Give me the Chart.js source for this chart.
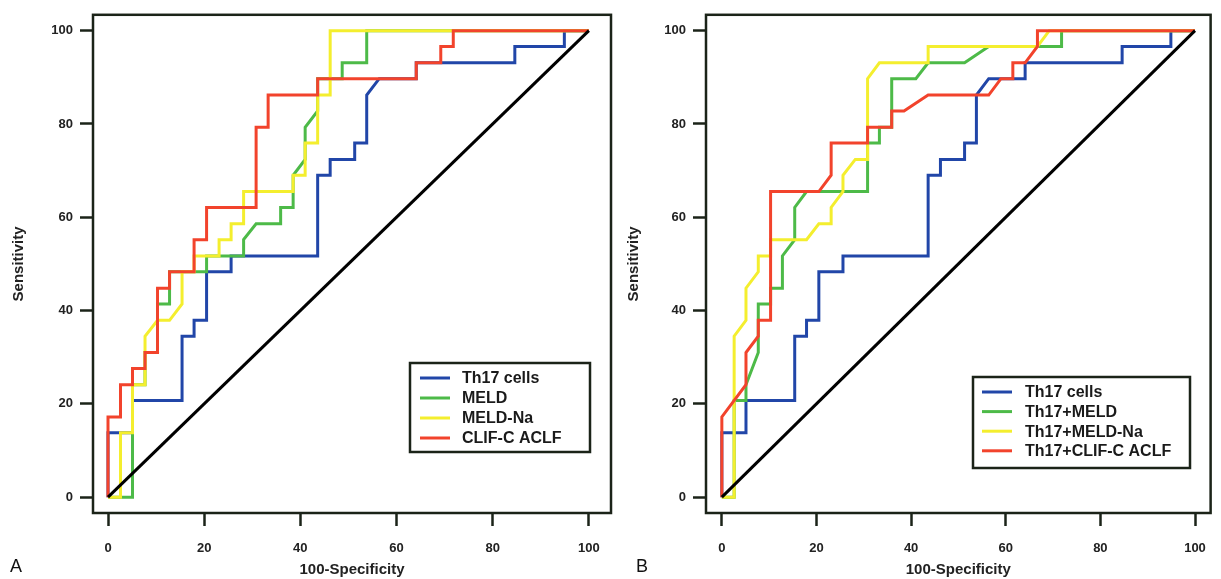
<!DOCTYPE html>
<html>
<head>
<meta charset="utf-8">
<script src="https://cdn.jsdelivr.net/npm/chart.js@4.4.0/dist/chart.umd.min.js"></script>
<style>
  body { margin: 0; background: #fff; width: 1221px; height: 579px; overflow: hidden; position: relative; }
  canvas { position: absolute; top: 0; }
  #chartA { left: 0; }
  #chartB { left: 615px; }
</style>
</head>
<body>
<canvas id="chartA" width="615" height="579"></canvas>
<canvas id="chartB" width="606" height="579"></canvas>
<script>
// ROC step curves, 100-specificity (x) vs sensitivity (y)
const th17X = [0, 0, 5.1, 5.1, 15.4, 15.4, 17.9, 17.9, 20.5, 20.5, 25.6, 25.6, 43.6, 43.6, 46.2, 46.2, 51.3, 51.3, 53.8, 53.8, 56.4, 64.1, 64.1, 84.6, 84.6, 94.9, 94.9, 100];
const th17Y = [0, 13.8, 13.8, 20.7, 20.7, 34.5, 34.5, 37.9, 37.9, 48.3, 48.3, 51.7, 51.7, 69.0, 69.0, 72.4, 72.4, 75.9, 75.9, 86.2, 89.7, 89.7, 93.1, 93.1, 96.6, 96.6, 100, 100];

const meldX = [0, 5.1, 5.1, 7.7, 7.7, 10.3, 10.3, 12.8, 12.8, 20.5, 20.5, 28.2, 28.2, 30.8, 35.9, 35.9, 38.5, 38.5, 41.0, 41.0, 43.6, 43.6, 48.7, 48.7, 53.8, 53.8, 100];
const meldY = [0, 0, 24.1, 24.1, 31.0, 31.0, 41.4, 41.4, 48.3, 48.3, 51.7, 51.7, 55.2, 58.6, 58.6, 62.1, 62.1, 69.0, 72.4, 79.3, 82.8, 89.7, 89.7, 93.1, 93.1, 100, 100];

const meldNaX = [0, 2.6, 2.6, 5.1, 5.1, 7.7, 7.7, 10.3, 12.8, 15.4, 15.4, 17.9, 17.9, 23.1, 23.1, 25.6, 25.6, 28.2, 28.2, 38.5, 38.5, 41.0, 41.0, 43.6, 43.6, 46.2, 46.2, 100];
const meldNaY = [0, 0, 13.8, 13.8, 24.1, 24.1, 34.5, 37.9, 37.9, 41.4, 48.3, 48.3, 51.7, 51.7, 55.2, 55.2, 58.6, 58.6, 65.5, 65.5, 69.0, 69.0, 75.9, 75.9, 86.2, 86.2, 100, 100];

const clifX = [0, 0, 2.6, 2.6, 5.1, 5.1, 7.7, 7.7, 10.3, 10.3, 12.8, 12.8, 17.9, 17.9, 20.5, 20.5, 30.8, 30.8, 33.3, 33.3, 43.6, 43.6, 64.1, 64.1, 69.2, 69.2, 71.8, 71.8, 100];
const clifY = [0, 17.2, 17.2, 24.1, 24.1, 27.6, 27.6, 31.0, 31.0, 44.8, 44.8, 48.3, 48.3, 55.2, 55.2, 62.1, 62.1, 79.3, 79.3, 86.2, 86.2, 89.7, 89.7, 93.1, 93.1, 96.6, 96.6, 100, 100];

const th17MeldX = [0, 2.6, 2.6, 5.1, 5.1, 7.7, 7.7, 10.3, 10.3, 12.8, 12.8, 15.4, 15.4, 17.9, 30.8, 30.8, 33.3, 33.3, 35.9, 35.9, 41.0, 43.6, 51.3, 56.4, 71.8, 71.8, 100];
const th17MeldY = [0, 0, 20.7, 20.7, 24.1, 31.0, 41.4, 41.4, 44.8, 44.8, 51.7, 55.2, 62.1, 65.5, 65.5, 75.9, 75.9, 79.3, 79.3, 89.7, 89.7, 93.1, 93.1, 96.6, 96.6, 100, 100];

const th17MeldNaX = [0, 2.6, 2.6, 5.1, 5.1, 7.7, 7.7, 10.3, 10.3, 17.9, 20.5, 23.1, 23.1, 25.6, 25.6, 28.2, 30.8, 30.8, 33.3, 43.6, 43.6, 66.7, 69.2, 100];
const th17MeldNaY = [0, 0, 34.5, 37.9, 44.8, 48.3, 51.7, 51.7, 55.2, 55.2, 58.6, 58.6, 62.1, 65.5, 69.0, 72.4, 72.4, 89.7, 93.1, 93.1, 96.6, 96.6, 100, 100];

const th17ClifX = [0, 0, 5.1, 5.1, 7.7, 7.7, 10.3, 10.3, 20.5, 23.1, 23.1, 30.8, 30.8, 35.9, 35.9, 38.5, 43.6, 56.4, 59.0, 61.5, 61.5, 64.1, 66.7, 66.7, 100];
const th17ClifY = [0, 17.2, 24.1, 31.0, 34.5, 37.9, 37.9, 65.5, 65.5, 69.0, 75.9, 75.9, 79.3, 79.3, 82.8, 82.8, 86.2, 86.2, 89.7, 89.7, 93.1, 93.1, 96.6, 100, 100];

const refX = [0, 100];
const refY = [0, 100];

const axisTicks = [0, 20, 40, 60, 80, 100];
const labelsA = ['Th17 cells', 'MELD', 'MELD-Na', 'CLIF-C ACLF'];
const labelsB = ['Th17 cells', 'Th17+MELD', 'Th17+MELD-Na', 'Th17+CLIF-C ACLF'];

const BLUE = '#2146a8', GREEN = '#4dba48', YELLOW = '#f4ee2e', RED = '#f2432c';
const INK = '#1b2318';
const FONT = '"Liberation Sans", Arial, sans-serif';

function pts(xs, ys) {
  return xs.map((x, i) => ({ x: x, y: ys[i] }));
}

function line(label, xs, ys, color, order) {
  return {
    label: label,
    data: pts(xs, ys),
    borderColor: color,
    backgroundColor: color,
    borderWidth: 3,
    pointRadius: 0,
    tension: 0,
    fill: false,
    order: order
  };
}

const framePlugin = {
  id: 'frame',
  afterDraw(chart, args, opts) {
    const { ctx, chartArea: a } = chart;
    ctx.save();
    ctx.strokeStyle = INK;
    ctx.lineWidth = 2.5;
    ctx.strokeRect(a.left, a.top, a.right - a.left, a.bottom - a.top);

    // panel letter
    ctx.fillStyle = '#111';
    ctx.font = '18px ' + FONT;
    ctx.textBaseline = 'middle';
    ctx.textAlign = 'left';
    ctx.fillText(opts.letter, opts.letterX, 567);

    // legend box
    const lg = opts.legend;
    ctx.strokeRect(lg.x, lg.y, lg.w, lg.h);
    ctx.font = 'bold 16px ' + FONT;
    chart.data.datasets.filter(d => d.label).forEach((d, i) => {
      const y = lg.rowY + i * lg.rowGap;
      ctx.strokeStyle = d.borderColor;
      ctx.lineWidth = 3;
      ctx.beginPath();
      ctx.moveTo(lg.lineX, y);
      ctx.lineTo(lg.lineX + 30, y);
      ctx.stroke();
      ctx.fillStyle = '#1a1a1a';
      ctx.fillText(d.label, lg.textX, y + 1);
    });
    ctx.restore();
  }
};

function scales(xMin, xMax, yWidth) {
  const setTicks = s => { s.ticks = axisTicks.map(v => ({ value: v })); };
  const grid = { drawOnChartArea: false, drawTicks: true, tickLength: 13, tickWidth: 2.5, tickColor: INK };
  return {
    x: {
      type: 'linear', min: xMin, max: xMax,
      afterBuildTicks: setTicks,
      afterFit: s => { s.height = 66; },
      grid: grid,
      border: { display: false },
      ticks: { padding: 15, color: '#222', maxRotation: 0, font: { family: FONT, weight: 'bold', size: 13 } },
      title: { display: true, text: '100-Specificity', color: '#222', padding: 0, font: { family: FONT, weight: 'bold', size: 15 } }
    },
    y: {
      type: 'linear', min: -3.4, max: 103.4,
      afterBuildTicks: setTicks,
      afterFit: s => { s.width = yWidth; },
      grid: grid,
      border: { display: false },
      ticks: { padding: 7, color: '#222', font: { family: FONT, weight: 'bold', size: 13 } },
      title: { display: true, text: 'Sensitivity', color: '#222', padding: { top: 10, bottom: 0 }, font: { family: FONT, weight: 'bold', size: 15 } }
    }
  };
}

function makeChart(id, datasets, xMin, xMax, yWidth, padRight, frameOpts) {
  return new Chart(document.getElementById(id).getContext('2d'), {
    type: 'line',
    data: { datasets: datasets },
    options: {
      responsive: false,
      animation: false,
      devicePixelRatio: 1,
      layout: { padding: { top: 12, right: padRight, left: 0, bottom: 0 } },
      plugins: { legend: { display: false }, tooltip: { enabled: false }, frame: frameOpts },
      scales: scales(xMin, xMax, yWidth)
    },
    plugins: [framePlugin]
  });
}

makeChart('chartA', [
  line(labelsA[0], th17X, th17Y, BLUE, 4),
  line(labelsA[1], meldX, meldY, GREEN, 3),
  line(labelsA[2], meldNaX, meldNaY, YELLOW, 2),
  line(labelsA[3], clifX, clifY, RED, 1),
  line('', refX, refY, '#000', 0)
], -3.12, 104.6, 93, 4, {
  letter: 'A', letterX: 10,
  legend: { x: 410, y: 363, w: 180, h: 89, lineX: 420, textX: 462, rowY: 378, rowGap: 20 }
});

makeChart('chartB', [
  line(labelsB[0], th17X, th17Y, BLUE, 4),
  line(labelsB[1], th17MeldX, th17MeldY, GREEN, 3),
  line(labelsB[2], th17MeldNaX, th17MeldNaY, YELLOW, 2),
  line(labelsB[3], th17ClifX, th17ClifY, RED, 1),
  line('', refX, refY, '#000', 0)
], -3.35, 103.3, 91, 5, {
  letter: 'B', letterX: 21,
  legend: { x: 358, y: 377, w: 217, h: 91, lineX: 367, textX: 410, rowY: 392, rowGap: 19.6 }
});
</script>
</body>
</html>
